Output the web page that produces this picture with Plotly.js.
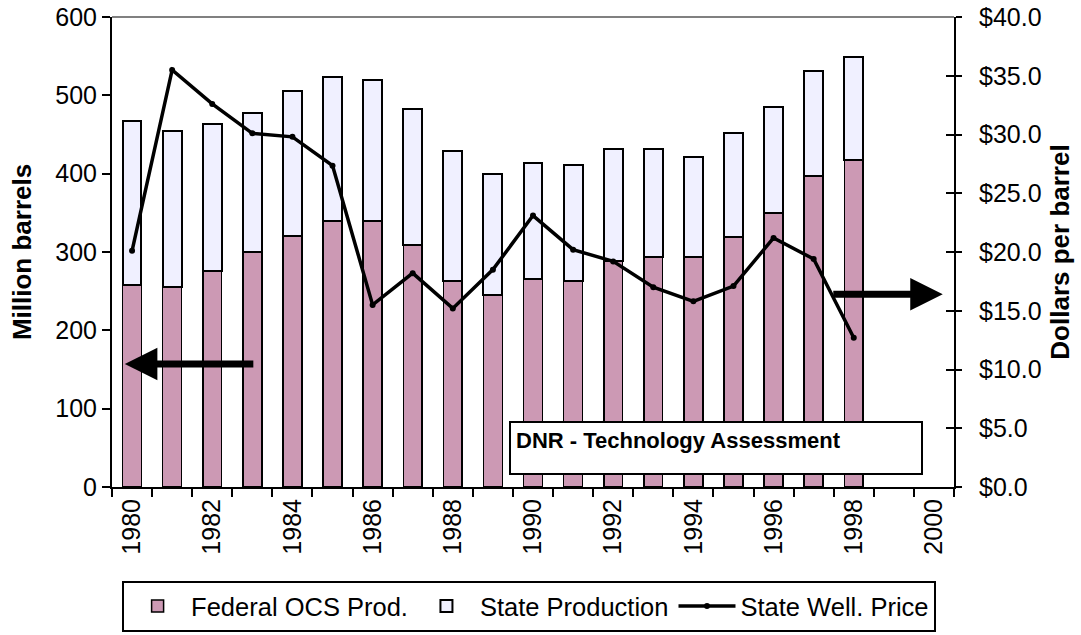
<!DOCTYPE html>
<html>
<head>
<meta charset="utf-8">
<script src="https://cdn.plot.ly/plotly-3.0.1.min.js"></script>
<style>html,body{margin:0;padding:0;background:#fff;}#chart{width:1081px;height:635px;}</style>
</head>
<body>
<div id="chart"></div>
<script>
var years = [1980,1981,1982,1983,1984,1985,1986,1987,1988,1989,1990,1991,1992,1993,1994,1995,1996,1997,1998];
var federalOCS = [258,255,276,300,320,340,340,309,263,245,265,263,289,293,293,319,350,397,418];
var stateProd  = [209,199,188,177,185,183,180,173,166,154,149,148,142,138,128,133,135,134,131];
var wellPrice  = [20.1,35.5,32.6,30.1,29.8,27.35,15.5,18.2,15.2,18.5,23.1,20.2,19.2,17.0,15.8,17.1,21.2,19.4,12.7];
var xTickLabels = [1980,1982,1984,1986,1988,1990,1992,1994,1996,1998,2000];
var xBoundaries = [];
for (var b = 1979.5; b <= 2000.5; b += 1) xBoundaries.push(b);

var FONT = 'Liberation Sans, Arial, sans-serif';

var traces = [
  {type:'bar', name:'Federal OCS Prod.', x:years, y:federalOCS, width:0.47,
   marker:{color:'#cc99b4', line:{color:'#000', width:1.5}}, yaxis:'y'},
  {type:'bar', name:'State Production', x:years, y:stateProd, width:0.47,
   marker:{color:'#f0f0ff', line:{color:'#000', width:2}}, yaxis:'y'},
  {type:'scatter', mode:'lines+markers', name:'State Well. Price', x:years, y:wellPrice,
   line:{color:'#000', width:3.5}, marker:{color:'#000', size:6}, yaxis:'y2'},
  {type:'scatter', x:[], y:[], yaxis:'y3', showlegend:false, hoverinfo:'skip'}
];

var layout = {
  width:1081, height:635,
  margin:{l:112, r:127, t:17, b:148, autoexpand:false},
  paper_bgcolor:'#fff', plot_bgcolor:'#fff',
  barmode:'stack',
  font:{family:FONT, size:25, color:'#000'},
  showlegend:true,
  legend:{orientation:'h', x:0.012, xanchor:'left', y:-0.3085, yanchor:'bottom',
          bordercolor:'#000', borderwidth:2, traceorder:'normal', itemwidth:57,
          font:{family:FONT, size:25.5, color:'#000'}},
  xaxis:{range:[1979.5,2000.5], tickmode:'array', tickvals:xTickLabels, ticks:'',
         tickangle:-90, showgrid:false, zeroline:false, showline:true,
         linecolor:'#000', linewidth:2, tickfont:{family:FONT, size:25},
         minor:{tickmode:'array', tickvals:xBoundaries, ticks:'outside', ticklen:8,
                tickwidth:2, tickcolor:'#000', showgrid:false}},
  yaxis:{range:[0,600], tickmode:'linear', tick0:0, dtick:100, ticks:'outside', ticklen:8,
         tickwidth:2, tickcolor:'#000', showgrid:false, zeroline:false, showline:true,
         linecolor:'#000', linewidth:2, tickfont:{family:FONT, size:25},
         title:{text:'<b>Million barrels</b>', font:{family:FONT, size:26}, standoff:16}},
  yaxis2:{range:[0,40], overlaying:'y', side:'right', tickmode:'linear', tick0:0, dtick:5,
          tickprefix:'$', tickformat:'.1f', ticks:'outside', ticklen:6, tickwidth:2,
          tickcolor:'#000', ticklabelstandoff:12, showgrid:false, zeroline:false,
          showline:true, linecolor:'#000', linewidth:2, tickfont:{family:FONT, size:25},
          title:{text:'<b>Dollars per barrel</b>', font:{family:FONT, size:26}, standoff:10}},
  yaxis3:{range:[0,40], overlaying:'y', side:'right', tickmode:'linear', tick0:0, dtick:5,
          ticks:'inside', ticklen:8, tickwidth:2, tickcolor:'#000', showticklabels:false,
          showgrid:false, zeroline:false, showline:false},
  shapes:[
    {type:'line', xref:'paper', yref:'paper', x0:0, x1:1, y0:1, y1:1,
     line:{color:'#808080', width:2}}
  ],
  annotations:[
    {x:1979.82, y:157, xref:'x', yref:'y', text:'', showarrow:true, ax:130, ay:0,
     arrowhead:2, arrowwidth:7, arrowsize:0.93, arrowcolor:'#000', standoff:0},
    {x:2000.22, y:246, xref:'x', yref:'y', text:'', showarrow:true, ax:-111, ay:0,
     arrowhead:2, arrowwidth:7, arrowsize:0.93, arrowcolor:'#000', standoff:0},
    {x:0.4715, y:0.1404, xref:'paper', yref:'paper', xanchor:'left', yanchor:'top',
     text:'<b>DNR - Technology Assessment</b>', showarrow:false, align:'left', valign:'top',
     width:400, height:40, borderpad:5, bordercolor:'#000', borderwidth:2, bgcolor:'#fff',
     font:{family:FONT, size:22, color:'#000'}}
  ]
};

Plotly.newPlot('chart', traces, layout, {displayModeBar:false, staticPlot:true});
</script>
</body>
</html>
